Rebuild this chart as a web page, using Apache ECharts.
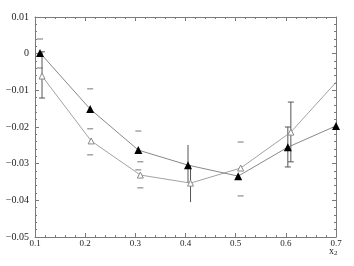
<!DOCTYPE html>
<html><head><meta charset="utf-8">
<script src="https://cdn.jsdelivr.net/npm/echarts@6/dist/echarts.min.js"></script>
<style>html,body{margin:0;padding:0;background:#fff}#c{width:354px;height:266px}</style>
</head><body><div id="c"></div>
<script>
// tick labels
const xTickLabels = ['0.1','0.2','0.3','0.4','0.5','0.6','0.7'];
const yTickLabels = ['−0.05','−0.04','−0.03','−0.02','−0.01','0','0.01'];
// filled triangles
const xFilled = [0.11, 0.21, 0.306, 0.405, 0.505, 0.604, 0.70];
const yFilled = [0.0002, -0.0151, -0.0263, -0.0304, -0.0334, -0.0255, -0.0197];
// open triangles
const xOpen = [0.114, 0.212, 0.31, 0.41, 0.51, 0.61, 0.71];
const yOpen = [-0.0061, -0.0238, -0.0331, -0.0353, -0.0312, -0.0214, -0.0063];
// vertical error bars with end caps
const capBarX = [0.114, 0.61, 0.604];
const capBarLow = [-0.0121, -0.0295, -0.0309];
const capBarHigh = [0.0005, -0.0132, -0.0200];
// vertical error bars without caps
const barX = [0.405, 0.41];
const barLow = [-0.0353, -0.0405];
const barHigh = [-0.0249, -0.0304];
// separate horizontal error marks
const dashX = [0.11, 0.11, 0.21, 0.21, 0.21, 0.306, 0.306, 0.31, 0.31, 0.51, 0.51];
const dashY = [0.0040, -0.0039, -0.0096, -0.0205, -0.0276, -0.0211, -0.0317, -0.0295, -0.0366, -0.0241, -0.0388];

const FONT = 'Liberation Serif';
const AX = '#7a7a7a';

function zip(a, b) { return a.map((v, i) => [v, b[i]]); }
function zip3(a, b, c) { return a.map((v, i) => [v, b[i], c[i]]); }

function barRenderer(withCaps) {
  return function (params, api) {
    const x = api.value(0), lo = api.value(1), hi = api.value(2);
    const p1 = api.coord([x, lo]), p2 = api.coord([x, hi]);
    const st = { stroke: '#555', lineWidth: 1 };
    const ch = [{ type: 'line', shape: { x1: p1[0], y1: p1[1], x2: p2[0], y2: p2[1] }, style: st }];
    if (withCaps) {
      ch.push({ type: 'line', shape: { x1: p1[0] - 3, y1: p1[1], x2: p1[0] + 3, y2: p1[1] }, style: st });
      ch.push({ type: 'line', shape: { x1: p2[0] - 3, y1: p2[1], x2: p2[0] + 3, y2: p2[1] }, style: st });
    }
    return { type: 'group', children: ch };
  };
}
function dashRenderer(params, api) {
  const p = api.coord([api.value(0), api.value(1)]);
  return { type: 'line', shape: { x1: p[0] - 3, y1: p[1], x2: p[0] + 3, y2: p[1] }, style: { stroke: '#777', lineWidth: 1 } };
}

const axisCommon = {
  type: 'value',
  axisLine: { show: true, onZero: false, lineStyle: { color: AX, width: 1 } },
  axisTick: { show: true, inside: true, length: 4, lineStyle: { color: AX } },
  minorTick: { show: true, splitNumber: 5, length: 2, lineStyle: { color: AX } },
  splitLine: { show: false },
  minorSplitLine: { show: false }
};

const chart = echarts.init(document.getElementById('c'), null, { renderer: 'canvas' });
chart.setOption({
  animation: false,
  backgroundColor: '#fff',
  grid: { left: 35, right: 18, top: 17, bottom: 29, containLabel: false },
  xAxis: [
    Object.assign({}, axisCommon, {
      position: 'bottom', min: 0.1, max: 0.7, interval: 0.1,
      axisLabel: { show: true, margin: 2, fontFamily: FONT, fontSize: 9, color: '#222',
        formatter: (v) => xTickLabels[Math.round((v - 0.1) / 0.1)] }
    }),
    Object.assign({}, axisCommon, {
      position: 'top', min: 0.1, max: 0.7, interval: 0.1, axisLabel: { show: false }
    })
  ],
  yAxis: [
    Object.assign({}, axisCommon, {
      position: 'left', min: -0.05, max: 0.01, interval: 0.01,
      axisLabel: { show: true, margin: 6, fontFamily: FONT, fontSize: 10, color: '#222',
        formatter: (v) => yTickLabels[Math.round((v + 0.05) / 0.01)] }
    }),
    Object.assign({}, axisCommon, {
      position: 'right', min: -0.05, max: 0.01, interval: 0.01, axisLabel: { show: false }
    })
  ],
  series: [
    {
      type: 'line', data: zip(xOpen, yOpen), symbol: 'triangle', symbolSize: 6,
      lineStyle: { color: '#8a8a8a', width: 0.8 },
      itemStyle: { color: '#fff', borderColor: '#8a8a8a', borderWidth: 1 }, clip: true, z: 3
    },
    {
      type: 'line', data: zip(xFilled, yFilled), symbol: 'triangle', symbolSize: 8,
      lineStyle: { color: '#6a6a6a', width: 0.8 },
      itemStyle: { color: '#000', borderColor: '#000', borderWidth: 0 }, clip: true, z: 4
    },
    { type: 'custom', renderItem: barRenderer(true), data: zip3(capBarX, capBarLow, capBarHigh), encode: { x: 0, y: [1, 2] }, clip: true, z: 2 },
    { type: 'custom', renderItem: barRenderer(false), data: zip3(barX, barLow, barHigh), encode: { x: 0, y: [1, 2] }, clip: true, z: 2 },
    { type: 'custom', renderItem: dashRenderer, data: zip(dashX, dashY), encode: { x: 0, y: 1 }, clip: true, z: 2 }
  ],
  graphic: [{
    type: 'text', left: 329, top: 246,
    style: {
      text: '{a|x}{b|2}',
      rich: { a: { fontFamily: FONT, fontSize: 10, fill: '#222' }, b: { fontFamily: FONT, fontSize: 7, fill: '#222', padding: [5, 0, 0, 0] } }
    }
  }]
});
</script></body></html>
